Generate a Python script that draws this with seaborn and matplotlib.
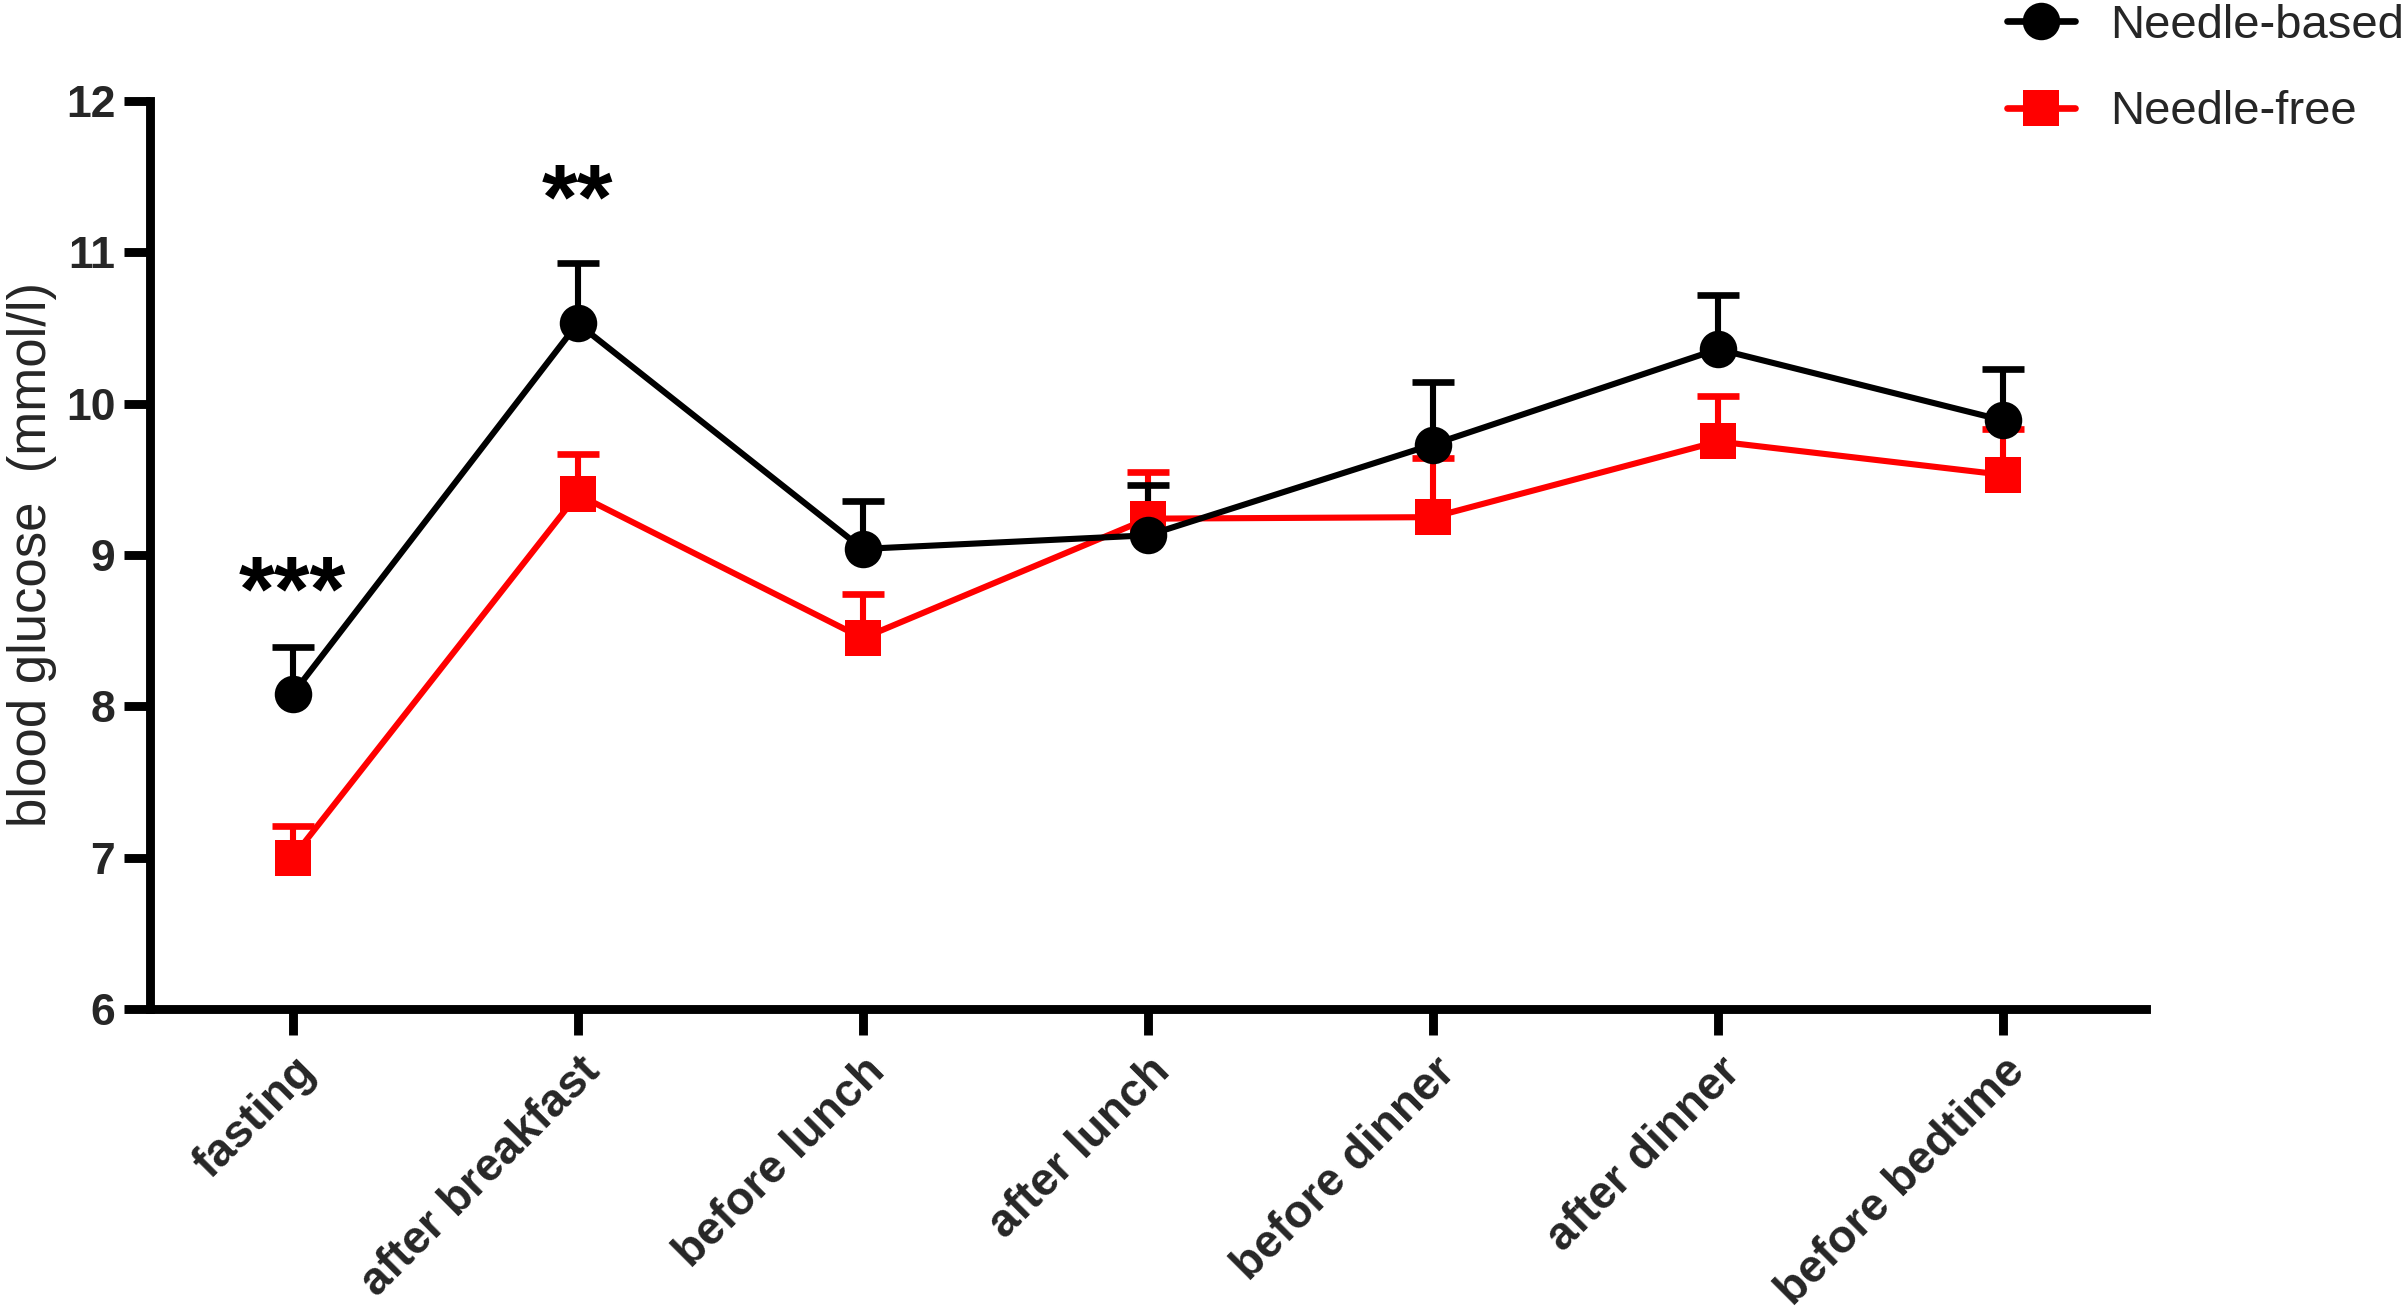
import numpy as np
import pandas as pd
import matplotlib
matplotlib.use("Agg")
import matplotlib.pyplot as plt
from matplotlib.lines import Line2D
import seaborn as sns

# ---- data ----
times = ["fasting", "after breakfast", "before lunch", "after lunch",
         "before dinner", "after dinner", "before bedtime"]
needle_based = [8.08, 10.53, 9.04, 9.13, 9.73, 10.36, 9.89]
needle_based_err = [0.31, 0.40, 0.32, 0.33, 0.41, 0.36, 0.34]
needle_free = [7.00, 9.40, 8.45, 9.24, 9.25, 9.75, 9.53]
needle_free_err = [0.21, 0.27, 0.29, 0.31, 0.39, 0.30, 0.30]
groups = ["Needle-based", "Needle-free"]
sig_labels = ["***", "**"]
sig_times = ["fasting", "after breakfast"]
sig_y = [8.57, 11.16]
y_ticks = [6, 7, 8, 9, 10, 11, 12]

sns.set_theme(style="ticks")
plt.rcParams["font.family"] = ["Liberation Sans", "DejaVu Sans"]

df = pd.DataFrame({
    "time": times * 2,
    "group": [groups[0]] * len(times) + [groups[1]] * len(times),
    "value": needle_based + needle_free,
})

fig = plt.figure(figsize=(12.04, 6.56), dpi=200)
ax = fig.add_axes([0.0623, 0.231, 0.8287, 0.692])

colors = {"Needle-based": "black", "Needle-free": "#ff0000"}
markers = {"Needle-based": "o", "Needle-free": "s"}
msize = {"Needle-based": 13.5, "Needle-free": 13}

# red first, black on top
for g, vals, errs in [(groups[1], needle_free, needle_free_err),
                      (groups[0], needle_based, needle_based_err)]:
    sub = df[df["group"] == g]
    xs = np.arange(len(times))
    _, caps, _ = ax.errorbar(xs, vals, yerr=[np.zeros(len(errs)), errs],
                             fmt="none", ecolor=colors[g], elinewidth=2.2,
                             capsize=7.5, capthick=2.4, zorder=2)
    caps[0].set_visible(False)  # only upper error bars
    sns.lineplot(data=sub, x="time", y="value", ax=ax, color=colors[g],
                 marker=markers[g], markersize=msize[g], markeredgewidth=0,
                 linewidth=2.2, sort=False, legend=False, zorder=3)

for lab, t, yv in zip(sig_labels, sig_times, sig_y):
    ax.text(times.index(t), yv, lab, ha="center", va="baseline",
            fontsize=33, fontweight="bold", color="black")

ax.set_xlim(-0.5, len(times) - 0.5)
ax.set_ylim(6, 12)
ax.set_yticks(y_ticks)
ax.set_xticks(range(len(times)))
ax.set_xticklabels(times, rotation=45, ha="right", va="top",
                   rotation_mode="anchor", fontsize=16.6)
ax.set_xlabel("")
ax.set_ylabel("blood glucose  (mmol/l)", fontsize=19, labelpad=3)

sns.despine(ax=ax)
for s in ["left", "bottom"]:
    ax.spines[s].set_linewidth(3.2)
    ax.spines[s].set_color("black")
ax.tick_params(axis="both", width=3.2, length=9.5, color="black", pad=3)
ax.tick_params(axis="y", labelsize=16)
for lbl in ax.get_xticklabels() + ax.get_yticklabels():
    lbl.set_fontweight("bold")
ax.tick_params(axis="x", pad=5)

handles = [
    Line2D([], [], color="black", marker="o", markersize=13.5,
           markeredgewidth=0, linewidth=2.4, solid_capstyle="round"),
    Line2D([], [], color="#ff0000", marker="s", markersize=13,
           markeredgewidth=0, linewidth=2.4, solid_capstyle="round"),
]
fig.legend(handles, groups, loc="upper left",
           bbox_to_anchor=(0.8335, 0.997), bbox_transform=fig.transFigure,
           frameon=False, fontsize=17, handlelength=1.44,
           handletextpad=0.74, labelspacing=0.9, borderpad=0,
           borderaxespad=0)

fig.savefig("out.png", dpi=200, facecolor="white")
